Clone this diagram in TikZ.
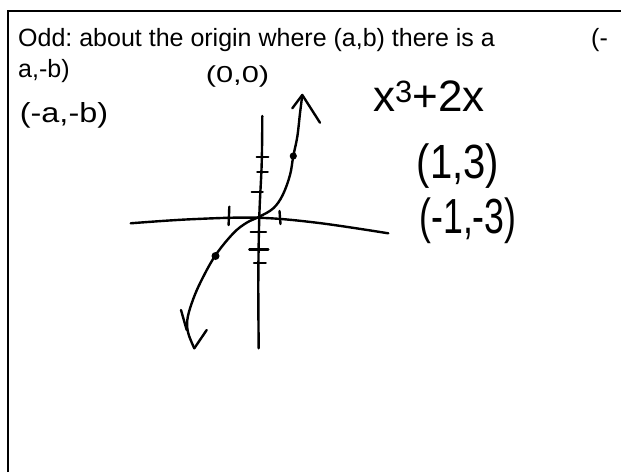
\documentclass[tikz,border=0pt]{standalone}
\usepackage{fontspec}
\setmainfont{Liberation Sans}
\newfontfamily\handfont{Liberation Sans}
\frenchspacing
\tikzset{
  frame/.style={line width=2.4pt},
  ink/.style={line width=2.4pt, line cap=round, line join=round},
  typed/.style={anchor=base west, inner sep=0pt, font=\fontsize{25}{30}\selectfont},
  hand/.style={inner sep=0pt, font=\handfont},
  dotmark/.style={fill=black, draw=none}
}
\begin{document}
\begin{tikzpicture}[x=1pt,y=-1pt]
\useasboundingbox (0,0) rectangle (621,472);
% frame
\coordinate (fb) at (8,472);
\coordinate (fc) at (8,11);
\coordinate (fr) at (621,11);
\draw[frame] (fb) -- (fc) -- (fr);
% typed text
\node[typed] (t1) at (18,46) {Odd: about the origin where (a,b) there is a};
\node[typed] (t1b) at (591,46) {(-};
\node[typed] (t2) at (18,77) {a,-b)};
% handwritten labels
\node[hand] (origin) at (237.5,76.5) {\fontsize{22}{22}\selectfont\scalebox{1.4}[1.05]{(0,0)}};
\node[hand] (mab) at (64,115) {\fontsize{24}{24}\selectfont\scalebox{1.35}[1.15]{(-a,-b)}};
\node[hand] (fx) at (429,96) {\fontsize{44}{44}\selectfont x\textsuperscript{3}+2x};
\node[hand] (p1) at (458,166) {\fontsize{40}{40}\selectfont\scalebox{1}[1.2]{(1,3)}};
\node[hand] (p2) at (468,221) {\fontsize{34}{34}\selectfont\scalebox{1.05}[1.45]{(-1,-3)}};
% axes
\draw[ink] plot[smooth, tension=0.6] coordinates {(130.7,223.3) (190,219.3) (256.7,217.7) (316.7,222.7) (388.3,233.3)};
\draw[ink] plot[smooth, tension=0.6] coordinates {(262.3,116) (261.7,163.3) (259.3,216.7) (258.3,280) (258.7,348.3)};
% y ticks
\draw[ink] (256.7,156.7) -- (268.3,156.7);
\draw[ink] (257.3,171.7) -- (267.7,171.7);
\draw[ink] (251.7,191.7) -- (262.7,191.7);
\draw[ink] (250.7,231.7) -- (266,231.7);
\draw[ink] (249.3,249.3) -- (268.3,249.3);
\draw[ink] (254,262.7) -- (265.7,262.7);
% x ticks
\draw[ink] (229.3,206.7) -- (228.6,225);
\draw[ink] (279.5,211) -- (280.5,224);
% curve
\coordinate (top) at (302.3,95);
\coordinate (bot) at (194.3,348.3);
\draw[ink] plot[smooth, tension=0.6] coordinates {(302.3,95) (300,113.3) (297.3,136.7) (293.3,156) (290,175) (282.7,195) (273.3,208.3) (259.3,216.7) (246.7,222.7) (233.3,233.3) (215,256) (200,283.3) (191.7,303.3) (187.3,320) (188.3,333.3) (194.3,348.3)};
% arrowheads
\draw[ink] (292.3,108.3) -- (top) -- (320,122.7);
\draw[ink] (181,310) -- (186.7,330);
\draw[ink] (bot) -- (206.7,330);
% points
\fill[dotmark] (293.3,156) circle (3.6);
\fill[dotmark] (215.5,256) circle (4);
\end{tikzpicture}
\end{document}
